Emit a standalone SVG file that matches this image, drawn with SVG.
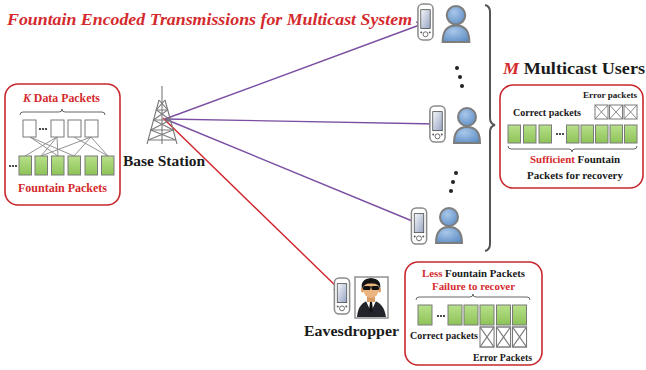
<svg xmlns="http://www.w3.org/2000/svg" width="646" height="370" viewBox="0 0 646 370">
<defs>
<style>
.t{font-family:"Liberation Serif","Times New Roman",serif;font-weight:bold}
.red{fill:#d42a2e}
.blk{fill:#1a1a1a}
.box{fill:#fff;stroke:#c8282d;stroke-width:1.6}
.pkt{fill:url(#gpk);stroke:#7a7a7a;stroke-width:1}
.sq{fill:#fff;stroke:#7a7a7a;stroke-width:1}
.x{stroke:#7a7a7a;stroke-width:0.9;fill:none}
.link{stroke:#888;stroke-width:0.9}
.brace{fill:none;stroke:#666;stroke-width:1}
.dot{fill:#222}
.tower{stroke:#7a7a7a;stroke-width:1.1;fill:none}
.purple{stroke:#7a4fa3;stroke-width:1.4;fill:none}
.redline{stroke:#d0222a;stroke-width:1.4;fill:none}
</style>
<linearGradient id="gpk" x1="0" y1="0" x2="0" y2="1">
<stop offset="0" stop-color="#b8e08a"/>
<stop offset="1" stop-color="#8dc357"/>
</linearGradient>
<linearGradient id="gscreen" x1="0" y1="0" x2="1" y2="1">
<stop offset="0" stop-color="#f6f7fb"/>
<stop offset="1" stop-color="#96a4c2"/>
</linearGradient>
<radialGradient id="gperson" cx="0.4" cy="0.35" r="0.75">
<stop offset="0" stop-color="#a9c8ea"/>
<stop offset="1" stop-color="#5c8cc4"/>
</radialGradient>
<symbol id="phone" viewBox="0 0 18 40">
<rect x="1" y="1" width="16" height="38" rx="5" fill="#fff" stroke="#8a8a8a" stroke-width="1.6"/>
<rect x="4" y="7" width="10" height="20" fill="url(#gscreen)" stroke="#444" stroke-width="0.8"/>
<circle cx="9" cy="33" r="2.6" fill="#fff" stroke="#555" stroke-width="0.9"/>
<circle cx="4.5" cy="31" r="1" fill="#555"/>
<circle cx="13.5" cy="31" r="1" fill="#555"/>
</symbol>
<symbol id="person" viewBox="0 0 30 38">
<path d="M2,37 C2,26 7,21 15,21 C23,21 28,26 28,37 Z" fill="url(#gperson)" stroke="#7d7d7d" stroke-width="2"/>
<circle cx="15" cy="11" r="9" fill="url(#gperson)" stroke="#7d7d7d" stroke-width="2"/>
</symbol>
<g id="xbox">
<rect x="0" y="0" width="13" height="14" class="sq"/>
<path d="M0,0 L13,14 M13,0 L0,14" class="x"/>
</g>
<marker id="ap" viewBox="0 0 10 10" refX="9" refY="5" markerWidth="9" markerHeight="9" markerUnits="userSpaceOnUse" orient="auto">
<path d="M0,0 L10,5 L0,10 Z" fill="#7a4fa3"/>
</marker>
<marker id="ar" viewBox="0 0 10 10" refX="9" refY="5" markerWidth="9" markerHeight="9" markerUnits="userSpaceOnUse" orient="auto">
<path d="M0,0 L10,5 L0,10 Z" fill="#d0222a"/>
</marker>
</defs>
<rect width="646" height="370" fill="#fff"/>

<!-- heading -->
<g id="title">
<text x="7" y="25" class="t red" font-size="17" font-style="italic" textLength="405" lengthAdjust="spacingAndGlyphs">Fountain Encoded Transmissions for Multicast System</text>
</g>

<!-- connectors from the tower -->
<g id="connectors">
<line x1="165" y1="119" x2="425" y2="23" class="purple" marker-end="url(#ap)"/>
<line x1="165" y1="119" x2="437" y2="124" class="purple" marker-end="url(#ap)"/>
<line x1="165" y1="119" x2="422" y2="225" class="purple" marker-end="url(#ap)"/>
<line x1="163" y1="118" x2="342" y2="292" class="redline" marker-end="url(#ar)"/>
</g>

<!-- source packets -->
<g id="source-block">
<rect x="5" y="84" width="115" height="121" rx="13" class="box"/>
<text x="23" y="102" class="t red" font-size="11.5" textLength="77" lengthAdjust="spacingAndGlyphs"><tspan font-style="italic">K</tspan> Data Packets</text>
<path d="M20,115 Q20,112 23,112 L59,112 Q62,112 62,109 Q62,112 65,112 L102,112 Q105,112 105,115" class="brace"/>
<g>
<line x1="30" y1="137" x2="74" y2="156" class="link"/>
<line x1="30" y1="137" x2="58" y2="156" class="link"/>
<line x1="57" y1="137" x2="25" y2="156" class="link"/>
<line x1="57" y1="137" x2="41" y2="156" class="link"/>
<line x1="57" y1="137" x2="58" y2="156" class="link"/>
<line x1="74" y1="137" x2="108" y2="156" class="link"/>
<line x1="91" y1="137" x2="74" y2="156" class="link"/>
<line x1="91" y1="137" x2="41" y2="156" class="link"/>
<line x1="91" y1="137" x2="108" y2="156" class="link"/>
</g>
<rect x="23" y="120" width="13" height="17" class="sq"/>
<circle cx="40" cy="129" r="1.1" class="dot"/><circle cx="43" cy="129" r="1.1" class="dot"/><circle cx="46" cy="129" r="1.1" class="dot"/>
<rect x="51" y="120" width="13" height="17" class="sq"/>
<rect x="68" y="120" width="13" height="17" class="sq"/>
<rect x="85" y="120" width="13" height="17" class="sq"/>
<circle cx="10" cy="166" r="1.1" class="dot"/><circle cx="13" cy="166" r="1.1" class="dot"/><circle cx="16" cy="166" r="1.1" class="dot"/>
<rect x="19" y="156" width="12.5" height="19" class="pkt"/>
<rect x="35" y="156" width="12.5" height="19" class="pkt"/>
<rect x="51.5" y="156" width="12.5" height="19" class="pkt"/>
<rect x="68" y="156" width="12.5" height="19" class="pkt"/>
<rect x="85" y="156" width="12.5" height="19" class="pkt"/>
<rect x="101.5" y="156" width="12.5" height="19" class="pkt"/>
<text x="18" y="192" class="t red" font-size="12" textLength="89" lengthAdjust="spacingAndGlyphs">Fountain Packets</text>
</g>

<!-- transmitter -->
<g id="base-station">
<line x1="162" y1="86" x2="162" y2="100" class="tower"/>
<path d="M159,100 L147,144 M165,100 L177,144 M162,100 L162,144" class="tower"/>
<path d="M156.3,110 H167.7 M153.5,120 H170.5 M150.8,130 H173.2 M148.1,140 H175.9" class="tower"/>
<polyline points="159,100 167.7,110 153.5,120 173.2,130 148.1,140" class="tower"/>
<polyline points="165,100 156.3,110 170.5,120 150.8,130 175.9,140" class="tower"/>
<text x="123" y="166" class="t blk" font-size="15.5" textLength="82" lengthAdjust="spacingAndGlyphs">Base Station</text>
</g>

<!-- receivers -->
<g id="user-1">
<use href="#phone" x="417" y="3" width="17" height="38"/>
<use href="#person" x="440" y="4" width="32" height="39"/>
</g>
<g id="user-2">
<use href="#phone" x="428" y="105" width="19" height="38"/>
<use href="#person" x="452" y="106" width="30" height="38"/>
</g>
<g id="user-3">
<use href="#phone" x="410" y="207" width="18" height="38"/>
<use href="#person" x="434" y="206" width="30" height="38"/>
</g>
<g id="ellipsis">
<circle cx="457" cy="68" r="2" class="dot"/><circle cx="460" cy="77" r="2" class="dot"/><circle cx="462" cy="86" r="2" class="dot"/>
<circle cx="456" cy="173" r="2" class="dot"/><circle cx="453" cy="182" r="2" class="dot"/><circle cx="451" cy="191" r="2" class="dot"/>
</g>
<path id="user-brace" d="M485,5 Q490,6 490,12 L490,118 Q490,124 495,125 Q490,126 490,132 L490,244 Q490,250 485,251" fill="none" stroke="#555" stroke-width="2"/>

<g id="multicast-label">
<text x="503" y="74" class="t blk" font-size="17" textLength="142" lengthAdjust="spacingAndGlyphs"><tspan class="red" font-style="italic">M</tspan> Multicast Users</text>
</g>

<!-- received packets at a legitimate user -->
<g id="user-block">
<rect x="500" y="85" width="143" height="103" rx="13" class="box"/>
<text x="583" y="98" class="t blk" font-size="9" textLength="54" lengthAdjust="spacingAndGlyphs">Error packets</text>
<use href="#xbox" x="595" y="105"/>
<use href="#xbox" x="609.5" y="105"/>
<use href="#xbox" x="624" y="105"/>
<text x="513" y="116" class="t blk" font-size="10" textLength="68" lengthAdjust="spacingAndGlyphs">Correct packets</text>
<rect x="508" y="125" width="12.5" height="18" class="pkt"/>
<rect x="523.5" y="125" width="12.5" height="18" class="pkt"/>
<rect x="539" y="125" width="12.5" height="18" class="pkt"/>
<circle cx="557" cy="134" r="1.1" class="dot"/><circle cx="560" cy="134" r="1.1" class="dot"/><circle cx="563" cy="134" r="1.1" class="dot"/>
<rect x="566.5" y="125" width="12.5" height="18" class="pkt"/>
<rect x="581" y="125" width="12.5" height="18" class="pkt"/>
<rect x="595.5" y="125" width="12.5" height="18" class="pkt"/>
<rect x="610" y="125" width="12.5" height="18" class="pkt"/>
<rect x="624.5" y="125" width="12.5" height="18" class="pkt"/>
<path d="M508,146 Q508,149 511,149 L569,149 Q572,149 572,152 Q572,149 575,149 L634,149 Q637,149 637,146" class="brace"/>
<text x="530" y="163" class="t blk" font-size="10.9" textLength="90" lengthAdjust="spacingAndGlyphs"><tspan class="red">Sufficient</tspan> Fountain</text>
<text x="527" y="179" class="t blk" font-size="10.9" textLength="96" lengthAdjust="spacingAndGlyphs">Packets for recovery</text>
</g>

<!-- illegitimate receiver -->
<g id="eavesdropper">
<use href="#phone" x="332" y="277" width="20" height="38"/>
<rect x="355" y="277" width="33" height="41" fill="#fff" stroke="#8a8a8a" stroke-width="1.4"/>
<path d="M357,317 Q358,302 371,300 Q384,302 386,317 Z" fill="#23232b"/>
<path d="M366,301 L371,312 L376,301 Z" fill="#fff"/>
<path d="M370,302 L372,302 L373,310 L371,313 L369,310 Z" fill="#111"/>
<rect x="367" y="294" width="8" height="8" fill="#d99a62"/>
<ellipse cx="362.5" cy="290" rx="1.6" ry="2.4" fill="#d99a62"/>
<ellipse cx="379.5" cy="290" rx="1.6" ry="2.4" fill="#d99a62"/>
<ellipse cx="371" cy="289" rx="8" ry="9" fill="#eab57e"/>
<path d="M362,289 Q360,279 371,278 Q382,279 380,289 Q379,283 371,283.5 Q364,283 362,289 Z" fill="#141414"/>
<rect x="363" y="286" width="7.5" height="4" rx="1.5" fill="#111"/>
<rect x="371.5" y="286" width="7.5" height="4" rx="1.5" fill="#111"/>
<line x1="370" y1="287" x2="372" y2="287" stroke="#111" stroke-width="1"/>
<text x="304" y="336" class="t blk" font-size="15" textLength="95" lengthAdjust="spacingAndGlyphs">Eavesdropper</text>
</g>

<!-- packets captured by the eavesdropper -->
<g id="eve-block">
<rect x="405" y="262" width="137" height="103" rx="13" class="box"/>
<text x="422" y="277" class="t blk" font-size="10.8" textLength="103" lengthAdjust="spacingAndGlyphs"><tspan class="red">Less</tspan> Fountain Packets</text>
<text x="432" y="290" class="t red" font-size="10.8" textLength="83" lengthAdjust="spacingAndGlyphs">Failure to recover</text>
<path d="M416,300 Q416,297 419,297 L470,297 Q473,297 473,294 Q473,297 476,297 L527,297 Q530,297 530,300" class="brace"/>
<rect x="418" y="305" width="14" height="20" class="pkt"/>
<circle cx="438" cy="316" r="1.1" class="dot"/><circle cx="441" cy="316" r="1.1" class="dot"/><circle cx="444" cy="316" r="1.1" class="dot"/>
<rect x="448" y="305" width="14" height="20" class="pkt"/>
<rect x="464" y="305" width="14" height="20" class="pkt"/>
<rect x="480" y="305" width="14" height="20" class="pkt"/>
<rect x="496.5" y="305" width="14" height="20" class="pkt"/>
<rect x="512.5" y="305" width="14" height="20" class="pkt"/>
<g transform="translate(480,327) scale(1.08,1.43)"><use href="#xbox"/></g>
<g transform="translate(496.5,327) scale(1.08,1.43)"><use href="#xbox"/></g>
<g transform="translate(512.5,327) scale(1.08,1.43)"><use href="#xbox"/></g>
<text x="410" y="339" class="t blk" font-size="10" textLength="68" lengthAdjust="spacingAndGlyphs">Correct packets</text>
<text x="473" y="361" class="t blk" font-size="9.8" textLength="59" lengthAdjust="spacingAndGlyphs">Error Packets</text>
</g>
</svg>
